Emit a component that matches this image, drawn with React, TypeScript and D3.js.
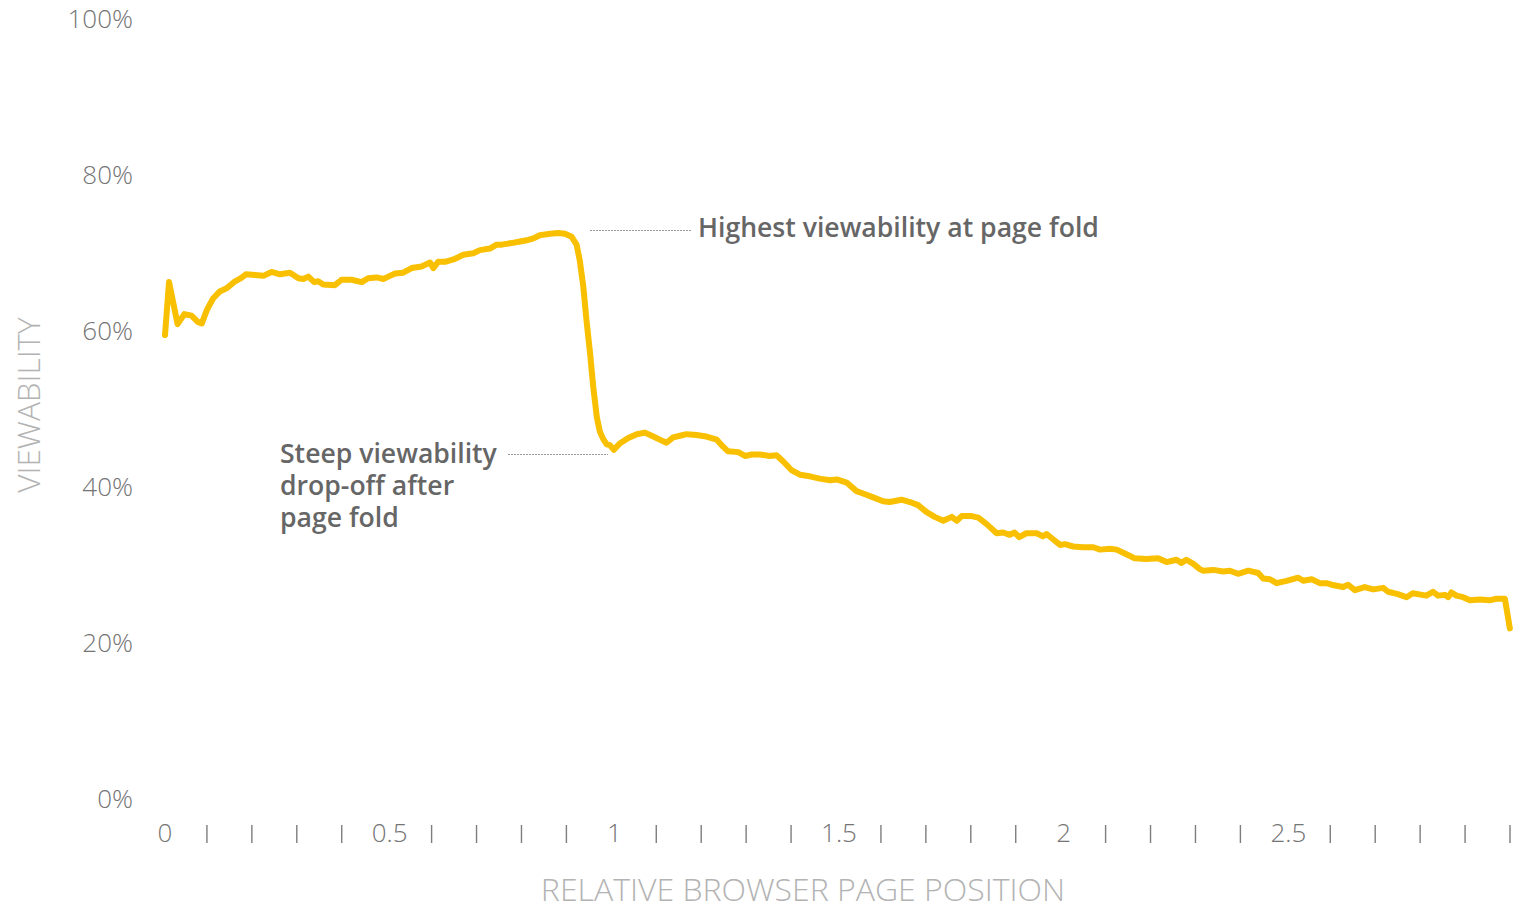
import React from "react";
import * as d3 from "d3";

const positions = [
  0.000, 0.009, 0.028, 0.043, 0.059, 0.073, 0.082, 0.093, 0.107, 0.122, 0.137, 0.156, 0.169, 0.180,
  0.200, 0.219, 0.237, 0.256, 0.278, 0.297, 0.308, 0.319, 0.332, 0.341, 0.352, 0.378, 0.393, 0.415,
  0.438, 0.452, 0.471, 0.486, 0.497, 0.512, 0.530, 0.549, 0.571, 0.590, 0.597, 0.608, 0.623, 0.642,
  0.664, 0.686, 0.701, 0.723, 0.738, 0.749, 0.760, 0.771, 0.790, 0.808, 0.820, 0.834, 0.857, 0.875,
  0.890, 0.905, 0.916, 0.923, 0.931, 0.938, 0.946, 0.953, 0.961, 0.968, 0.975, 0.983, 0.990, 0.999,
  1.012, 1.031, 1.050, 1.068, 1.087, 1.101, 1.116, 1.131, 1.146, 1.161, 1.183, 1.205, 1.228, 1.242,
  1.253, 1.276, 1.291, 1.306, 1.324, 1.346, 1.361, 1.376, 1.394, 1.413, 1.435, 1.457, 1.480, 1.495,
  1.517, 1.539, 1.558, 1.576, 1.598, 1.613, 1.639, 1.658, 1.676, 1.695, 1.713, 1.732, 1.751, 1.762,
  1.773, 1.795, 1.810, 1.828, 1.851, 1.865, 1.880, 1.891, 1.901, 1.917, 1.940, 1.954, 1.962, 1.977,
  1.992, 2.003, 2.021, 2.043, 2.066, 2.081, 2.103, 2.118, 2.136, 2.158, 2.184, 2.210, 2.229, 2.251,
  2.262, 2.273, 2.288, 2.303, 2.310, 2.333, 2.355, 2.370, 2.388, 2.411, 2.433, 2.444, 2.459, 2.474,
  2.496, 2.522, 2.533, 2.552, 2.570, 2.585, 2.596, 2.622, 2.633, 2.648, 2.670, 2.689, 2.711, 2.722,
  2.744, 2.763, 2.777, 2.807, 2.822, 2.833, 2.848, 2.856, 2.863, 2.874, 2.889, 2.904, 2.926, 2.948,
  2.963, 2.982, 2.993,
];

const viewability = [
  59.6, 66.4, 61.0, 62.3, 62.1, 61.3, 61.1, 62.8, 64.3, 65.2, 65.6, 66.5, 66.9, 67.4,
  67.3, 67.2, 67.7, 67.4, 67.6, 66.9, 66.8, 67.1, 66.4, 66.5, 66.1, 66.0, 66.7, 66.7,
  66.4, 66.9, 67.0, 66.8, 67.1, 67.5, 67.6, 68.2, 68.4, 68.9, 68.2, 69.0, 69.0, 69.3,
  69.9, 70.1, 70.5, 70.7, 71.2, 71.2, 71.3, 71.4, 71.6, 71.8, 72.0, 72.4, 72.6, 72.7,
  72.6, 72.2, 71.2, 69.2, 65.8, 61.5, 57.3, 53.0, 49.1, 47.2, 46.3, 45.6, 45.5, 44.9,
  45.7, 46.4, 46.9, 47.1, 46.6, 46.2, 45.8, 46.5, 46.7, 46.9, 46.8, 46.6, 46.2, 45.3,
  44.7, 44.6, 44.1, 44.3, 44.3, 44.1, 44.2, 43.4, 42.3, 41.7, 41.5, 41.2, 41.0, 41.1,
  40.7, 39.6, 39.2, 38.8, 38.3, 38.2, 38.5, 38.2, 37.8, 36.9, 36.3, 35.8, 36.3, 35.8,
  36.4, 36.4, 36.2, 35.4, 34.2, 34.3, 34.0, 34.3, 33.7, 34.2, 34.2, 33.8, 34.1, 33.4,
  32.7, 32.8, 32.5, 32.4, 32.4, 32.1, 32.2, 32.1, 31.6, 31.0, 30.9, 31.0, 30.5, 30.8,
  30.4, 30.8, 30.3, 29.6, 29.4, 29.5, 29.3, 29.4, 29.0, 29.4, 29.1, 28.4, 28.3, 27.8,
  28.1, 28.5, 28.1, 28.3, 27.8, 27.8, 27.6, 27.3, 27.6, 26.9, 27.3, 27.0, 27.2, 26.7,
  26.4, 26.0, 26.5, 26.2, 26.7, 26.2, 26.3, 26.0, 26.6, 26.2, 26.0, 25.6, 25.7, 25.6,
  25.8, 25.8, 22.0,
];

const yTicks = [0, 20, 40, 60, 80, 100];
const xTicks = d3.range(0, 31).map((i) => i / 10);
const xLabelled = [0, 0.5, 1, 1.5, 2, 2.5];

const yTitle = "VIEWABILITY";
const xTitle = "RELATIVE BROWSER PAGE POSITION";
const noteTop = ["Highest viewability at page fold"];
const noteBottom = ["Steep viewability", "drop-off after", "page fold"];

export default function App() {
  const W = 1523;
  const H = 907;
  const x = d3.scaleLinear().domain([0, 3]).range([165, 1513]);
  const y = d3.scaleLinear().domain([0, 100]).range([800, 20]);
  const pts = positions.map((p, i) => [p, viewability[i]] as [number, number]);
  const line = d3
    .line<[number, number]>()
    .x((d) => x(d[0]))
    .y((d) => y(d[1]));

  const font = "'Open Sans', 'Noto Sans', sans-serif";
  const isLabelled = (t: number) => xLabelled.some((v) => Math.abs(v - t) < 1e-6);

  return (
    <svg
      width={W}
      height={H}
      style={{ position: "absolute", left: 0, top: 0, background: "#fff" }}
      fontFamily={font}
    >
      {yTicks.map((t) => (
        <text
          key={t}
          x={133}
          y={y(t) - 2}
          textAnchor="end"
          dominantBaseline="central"
          fontSize={26}
          fontWeight={300}
          fill="#757575"
        >
          {t}%
        </text>
      ))}
      {xTicks.map((t) =>
        isLabelled(t) ? (
          <text
            key={t}
            x={x(t)}
            y={832}
            textAnchor="middle"
            dominantBaseline="central"
            fontSize={26}
            fontWeight={300}
            fill="#757575"
          >
            {d3.format("~g")(t)}
          </text>
        ) : (
          <line
            key={t}
            x1={x(t) - 3}
            x2={x(t) - 3}
            y1={825}
            y2={843}
            stroke="#7d7d7d"
            strokeWidth={1.4}
          />
        )
      )}
      <text
        transform={`translate(27,${(318 + 492) / 2}) rotate(-90)`}
        textAnchor="middle"
        dominantBaseline="central"
        fontSize={31.5}
        fontWeight={300}
        fill="#b3b3b3"
      >
        {yTitle}
      </text>
      <text
        x={803}
        y={888}
        textAnchor="middle"
        dominantBaseline="central"
        fontSize={32}
        fontWeight={300}
        fill="#b3b3b3"
      >
        {xTitle}
      </text>

      <path
        d={line(pts) || ""}
        fill="none"
        stroke="#F8C000"
        strokeWidth={6}
        strokeLinejoin="round"
        strokeLinecap="round"
      />

      <line x1={590} x2={691} y1={230.5} y2={230.5} stroke="#9a9a9a" strokeWidth={1} strokeDasharray="2,1" />
      <text x={698} y={227} dominantBaseline="central" fontSize={26.6} fontWeight={600} fill="#666666">
        {noteTop[0]}
      </text>

      <line x1={508} x2={608} y1={454.5} y2={454.5} stroke="#9a9a9a" strokeWidth={1} strokeDasharray="2,1" />
      {noteBottom.map((s, i) => (
        <text
          key={s}
          x={280}
          y={453 + i * 32}
          dominantBaseline="central"
          fontSize={26.6}
          fontWeight={600}
          fill="#666666"
        >
          {s}
        </text>
      ))}
    </svg>
  );
}
